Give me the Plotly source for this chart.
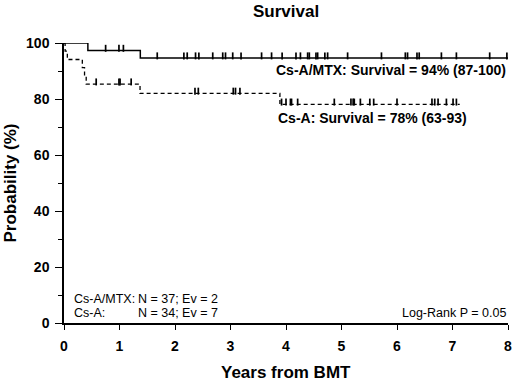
import plotly.graph_objects as go

# ---- data ----
# Cs-A/MTX (solid): event times (years) and survival (%) after each step
mtx_times = [0.0, 0.43, 1.375]
mtx_surv = [100.0, 97.3, 94.6]
mtx_end = 8.0
mtx_censor_97 = [0.75, 0.99, 1.07]
mtx_censor_94 = [1.68, 2.16, 2.22, 2.37, 2.43, 2.68, 2.86, 2.91, 3.04, 3.19,
                 3.56, 3.74, 3.93, 4.18, 4.26, 4.39, 4.42, 4.54, 4.57, 4.70,
                 4.75, 5.11, 5.72, 6.15, 6.19, 6.36, 6.40, 6.80, 7.07, 7.67, 7.98]

# Cs-A (dashed)
csa_times = [0.0, 0.02, 0.06, 0.33, 0.37, 0.40, 1.37, 3.89]
csa_surv = [100.0, 97.1, 94.1, 91.2, 88.2, 85.3, 82.0, 78.1]
csa_end = 7.13
csa_censor_85 = [0.58, 0.99, 1.01, 1.21]
csa_censor_82 = [2.36, 2.42, 3.05, 3.09, 3.17]
csa_censor_78 = [3.92, 4.00, 4.08, 4.10, 4.21, 4.87, 5.17, 5.21, 5.23, 5.34,
                 5.51, 5.58, 6.00, 6.63, 6.68, 6.74, 6.89, 7.01, 7.07]

x_ticks = [0, 1, 2, 3, 4, 5, 6, 7, 8]
y_ticks = [0, 20, 40, 60, 80, 100]

FONT = "Liberation Sans, Arial, sans-serif"

fig = go.Figure()

def steps(times, surv, end):
    return list(times) + [end], list(surv) + [surv[-1]]

sx, sy = steps(mtx_times, mtx_surv, mtx_end)
fig.add_trace(go.Scatter(x=sx, y=sy, mode="lines", line=dict(color="black", width=1.5, shape="hv"),
                         showlegend=False, hoverinfo="skip"))
dx, dy = steps(csa_times, csa_surv, csa_end)
fig.add_trace(go.Scatter(x=dx, y=dy, mode="lines",
                         line=dict(color="black", width=1.3, shape="hv", dash="4px,3px"),
                         showlegend=False, hoverinfo="skip"))

TICK_UP = 0.8  # marker centre offset above the line (in %)
def censor(times, level):
    fig.add_trace(go.Scatter(x=times, y=[level + TICK_UP] * len(times), mode="markers",
                             marker=dict(symbol="line-ns-open", size=5, color="black",
                                         line=dict(color="black", width=1.7)),
                             showlegend=False, hoverinfo="skip", cliponaxis=False))

censor(mtx_censor_97, mtx_surv[1])
censor(mtx_censor_94, mtx_surv[2])
censor(csa_censor_85, csa_surv[5])
censor(csa_censor_82, csa_surv[6])
censor(csa_censor_78, csa_surv[7])

ann = []
ann.append(dict(text="<b>Survival</b>", xref="paper", yref="paper", x=0.5, y=1.112,
                xanchor="center", yanchor="middle", showarrow=False, font=dict(size=17)))
ann.append(dict(text="<b>Years from BMT</b>", xref="paper", yref="paper", x=0.5, y=-0.175,
                xanchor="center", yanchor="middle", showarrow=False, font=dict(size=17)))
ann.append(dict(text="<b>Probability (%)</b>", xref="paper", yref="paper", x=(10 - 64) / 448, y=0.5,
                xanchor="center", yanchor="middle", showarrow=False, textangle=-90, font=dict(size=17)))
ann.append(dict(text="<b>Cs-A/MTX: Survival = 94% (87-100)</b>", x=8, y=90.4, xanchor="right",
                yanchor="middle", showarrow=False, font=dict(size=14)))
ann.append(dict(text="<b>Cs-A: Survival = 78% (63-93)</b>", x=3.82, y=73.2, xanchor="left",
                yanchor="middle", showarrow=False, font=dict(size=14)))
ann.append(dict(text="Cs-A/MTX:", x=0.14, y=8.6, xanchor="left", yanchor="middle", showarrow=False,
                font=dict(size=12.5)))
ann.append(dict(text="N = 37; Ev = 2", x=1.3, y=8.6, xanchor="left", yanchor="middle", showarrow=False,
                font=dict(size=12.5)))
ann.append(dict(text="Cs-A:", x=0.14, y=3.6, xanchor="left", yanchor="middle", showarrow=False,
                font=dict(size=12.5)))
ann.append(dict(text="N = 34; Ev = 7", x=1.3, y=3.6, xanchor="left", yanchor="middle", showarrow=False,
                font=dict(size=12.5)))
ann.append(dict(text="Log-Rank P = 0.05", x=8, y=3.6, xanchor="right", yanchor="middle", showarrow=False,
                font=dict(size=12.5)))

fig.update_layout(
    width=520, height=382,
    margin=dict(l=64, r=8, t=43, b=59),
    paper_bgcolor="white", plot_bgcolor="white",
    font=dict(family=FONT, color="black"),
    annotations=ann,
    showlegend=False,
)
fig.update_xaxes(range=[0, 8], tickvals=x_ticks, ticktext=[f"<b>{v}</b>" for v in x_ticks],
                 showline=True, linecolor="black", linewidth=1.5, ticks="outside", ticklen=5,
                 tickcolor="black", tickwidth=1.2, showgrid=False, zeroline=False,
                 tickfont=dict(size=14), ticklabelstandoff=4, fixedrange=True)
fig.update_yaxes(range=[0, 100], tickvals=y_ticks, ticktext=[f"<b>{v}</b>" for v in y_ticks],
                 showline=True, linecolor="black", linewidth=1.5, ticks="outside", ticklen=7,
                 tickcolor="black", tickwidth=1.2, showgrid=False, zeroline=False,
                 tickfont=dict(size=14), ticklabelstandoff=3,
                 minor=dict(dtick=10, tick0=0, ticks="outside", ticklen=4, tickcolor="black", tickwidth=1.2,
                            showgrid=False),
                 fixedrange=True)

fig.write_html("out.html", config={"displayModeBar": False},
               post_script="document.body.style.margin='0';")
